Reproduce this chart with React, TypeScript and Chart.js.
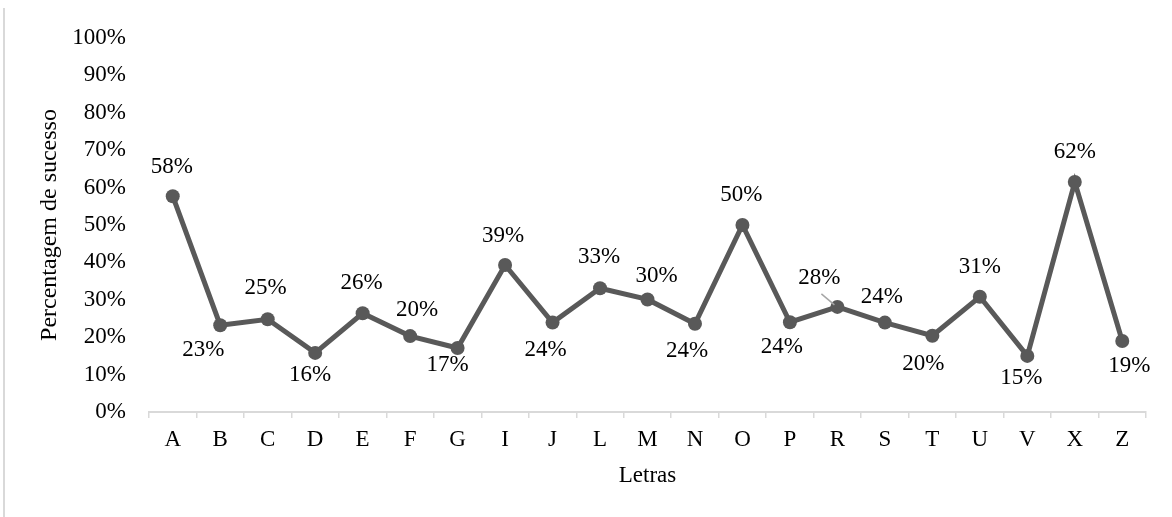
import React, { useEffect, useRef } from "react";
import { Chart, registerables } from "chart.js";

Chart.register(...registerables);

const categories = ["A", "B", "C", "D", "E", "F", "G", "I", "J", "L", "M", "N", "O", "P", "R", "S", "T", "U", "V", "X", "Z"];
const successRates = [57.7, 23.2, 24.8, 15.8, 26.4, 20.3, 17.1, 39.3, 23.9, 33.1, 30.1, 23.6, 50.0, 24.0, 28.1, 23.9, 20.4, 30.8, 15.0, 61.5, 19.0];
const yTickValues = [0, 10, 20, 30, 40, 50, 60, 70, 80, 90, 100];
// label placement relative to each point [dx, dy]
const labelOffsets: [number, number][] = [
  [-1, -29], [-17, 25], [-2, -31], [-5, 22], [-1, -30], [7, -26], [-10, 17],
  [-2, -29], [-7, 27], [-1, -31], [9, -23], [-8, 27], [-1, -30], [-8, 25],
  [-18, -29], [-3, -26], [-9, 28], [0, -30], [-6, 22], [0, -30], [7, 25],
];
const leaderIndices = [14];

const FONT = "'Liberation Serif', 'Times New Roman', serif";
const LINE_COLOR = "#595959";
const FONT_SIZE = 23;

const dataLabelPlugin = {
  id: "dataLabels",
  afterDatasetsDraw(chart: any) {
    const ctx = chart.ctx;
    const meta = chart.getDatasetMeta(0);
    ctx.save();
    ctx.font = `${FONT_SIZE}px ${FONT}`;
    ctx.fillStyle = "#000";
    ctx.textAlign = "center";
    ctx.textBaseline = "middle";
    meta.data.forEach((pt: any, i: number) => {
      const [dx, dy] = labelOffsets[i];
      const lx = pt.x + dx;
      const ly = pt.y + dy;
      if (leaderIndices.includes(i)) {
        ctx.strokeStyle = "#a6a6a6";
        ctx.lineWidth = 1.5;
        ctx.beginPath();
        ctx.moveTo(lx + 2, ly + 16);
        ctx.lineTo(pt.x - 3, pt.y - 2);
        ctx.stroke();
      }
      ctx.fillText(Math.round(successRates[i]) + "%", lx, ly);
    });
    ctx.restore();
  },
};

export default function App() {
  const canvasRef = useRef<HTMLCanvasElement | null>(null);

  useEffect(() => {
    if (!canvasRef.current) return;
    const chart = new Chart(canvasRef.current, {
      type: "line",
      data: {
        labels: categories,
        datasets: [
          {
            data: successRates,
            borderColor: LINE_COLOR,
            backgroundColor: LINE_COLOR,
            borderWidth: 5,
            pointRadius: 7,
            pointBorderWidth: 0,
            pointBackgroundColor: LINE_COLOR,
            pointHoverRadius: 7,
            tension: 0,
            fill: false,
          },
        ],
      },
      options: {
        animation: false,
        responsive: false,
        maintainAspectRatio: false,
        layout: { padding: { left: 0, top: 38, right: 26, bottom: 0 } },
        plugins: {
          legend: { display: false },
          tooltip: { enabled: false },
        },
        scales: {
          x: {
            type: "category",
            offset: true,
            afterFit: (scale: any) => {
              scale.height = 105;
            },
            grid: {
              display: true,
              offset: true,
              drawOnChartArea: false,
              drawTicks: true,
              tickLength: 6,
              color: "#d9d9d9",
              lineWidth: 1.5,
            },
            border: { display: true, color: "#d9d9d9", width: 2 },
            ticks: {
              color: "#000",
              font: { family: FONT, size: FONT_SIZE },
              padding: 8.5,
              maxRotation: 0,
              autoSkip: false,
            },
            title: {
              display: true,
              text: "Letras",
              color: "#000",
              font: { family: FONT, size: FONT_SIZE },
              padding: { top: 0, bottom: 27 },
            },
          },
          y: {
            min: 0,
            max: 100,
            afterFit: (scale: any) => {
              scale.width = 149;
            },
            afterBuildTicks: (scale: any) => {
              scale.ticks = yTickValues.map((v) => ({ value: v }));
            },
            grid: { display: false, drawTicks: false },
            border: { display: false },
            ticks: {
              color: "#000",
              font: { family: FONT, size: FONT_SIZE },
              padding: 23,
              callback: (v: any) => v + "%",
            },
            title: {
              display: true,
              text: "Percentagem de sucesso",
              color: "#000",
              font: { family: FONT, size: 24 },
              padding: { top: 35, bottom: 0 },
            },
          },
        },
      },
      plugins: [dataLabelPlugin],
    });
    return () => chart.destroy();
  }, []);

  return (
    <div style={{ position: "fixed", left: 0, top: 0, width: 1172, height: 517, background: "#fff" }}>
      <div
        style={{
          position: "absolute",
          left: 3,
          top: 8,
          width: 1.5,
          height: 509,
          background: "#d9d9d9",
        }}
      />
      <canvas ref={canvasRef} width={1172} height={517} style={{ position: "absolute", left: 0, top: 0 }} />
    </div>
  );
}
